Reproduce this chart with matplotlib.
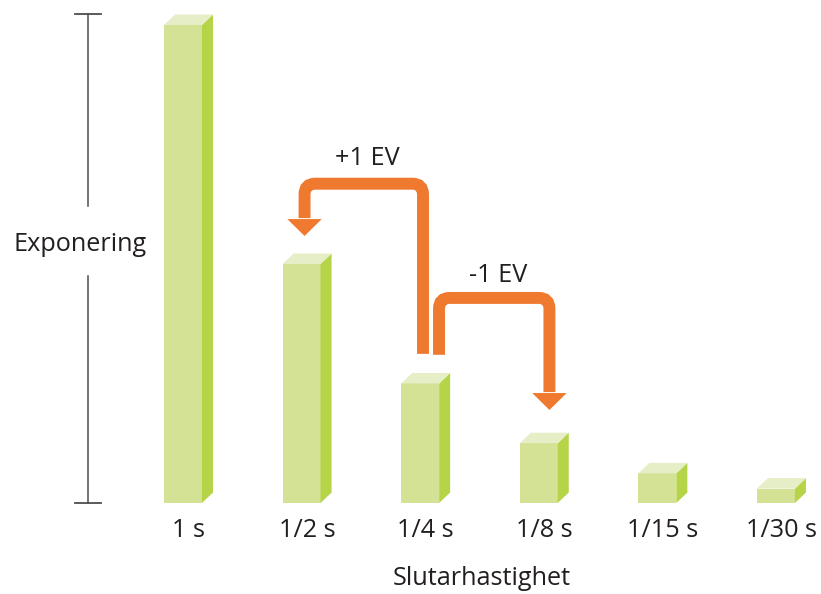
import numpy as np
import matplotlib
matplotlib.use("Agg")
import matplotlib.pyplot as plt
from matplotlib.patches import Polygon, Rectangle, PathPatch
from matplotlib.path import Path

# -----------------------------------------------------------------------------
# Data (relative exposure per shutter speed)
# -----------------------------------------------------------------------------
speeds = ["1 s", "1/2 s", "1/4 s", "1/8 s", "1/15 s", "1/30 s"]
exposure = [1.0, 0.5, 0.25, 0.125, 0.062, 0.03]
y_label = "Exponering"
x_label = "Slutarhastighet"
ev_labels = ["+1 EV", "-1 EV"]

# styles
FRONT = "#d3e294"
SIDE = "#b6d448"
TOP = "#e5eec6"
ORANGE = "#ef7a2f"
TXT = "#231f20"
plt.rcParams['font.family'] = ['Open Sans', 'DejaVu Sans']

W = 0.32          # front face width (x units)
DX = 0.093        # depth offset x
DY = 0.022        # depth offset y
FS = 18.2

fig = plt.figure(figsize=(8.21, 5.94), dpi=100)
ax = fig.add_axes([0, 0, 1, 1])
ax.set_xlim(-1.383, 5.540)
ax.set_ylim(-0.1904, 1.0523)
ax.axis('off')

# -----------------------------------------------------------------------------
# 3D-looking bars
# -----------------------------------------------------------------------------
for i, v in enumerate(exposure):
    ax.add_patch(Rectangle((i, 0), W, v, facecolor=FRONT, edgecolor='none'))
    ax.add_patch(Polygon([(i + W, 0), (i + W + DX, DY), (i + W + DX, v + DY), (i + W, v)],
                         closed=True, facecolor=SIDE, edgecolor='none'))
    ax.add_patch(Polygon([(i, v), (i + DX, v + DY), (i + W + DX, v + DY), (i + W, v)],
                         closed=True, facecolor=TOP, edgecolor='none'))
    ax.text(i + (W + DX) / 2, -0.057, speeds[i], ha='center', va='center',
            fontsize=FS, color=TXT)

ax.text(2.68, -0.158, x_label, ha='center', va='center', fontsize=FS, color=TXT)

# -----------------------------------------------------------------------------
# vertical exposure axis with a gap for the label
# -----------------------------------------------------------------------------
ax_x = -0.641
ax_top = exposure[0] + DY
ax.plot([ax_x, ax_x], [0.621, ax_top], color='#4d4d4d', lw=1.1)
ax.plot([ax_x, ax_x], [0, 0.475], color='#4d4d4d', lw=1.1)
ax.plot([ax_x - 0.11, ax_x + 0.11], [ax_top, ax_top], color='#4d4d4d', lw=1.3)
ax.plot([ax_x - 0.11, ax_x + 0.11], [0, 0], color='#4d4d4d', lw=1.3)
ax.text(-0.708, 0.54, y_label, ha='center', va='center', fontsize=FS, color=TXT)


# -----------------------------------------------------------------------------
# orange EV arrows
# -----------------------------------------------------------------------------
def ev_arrow(x0, y0, ytop, x1, ybase, ytip):
    rx, ry = 0.09, 0.0225
    sgn = 1 if x1 > x0 else -1
    verts = [(x0, y0), (x0, ytop - ry), (x0, ytop), (x0 + sgn * rx, ytop),
             (x1 - sgn * rx, ytop), (x1, ytop), (x1, ytop - ry), (x1, ybase + 0.002)]
    codes = [Path.MOVETO, Path.LINETO, Path.CURVE3, Path.CURVE3,
             Path.LINETO, Path.CURVE3, Path.CURVE3, Path.LINETO]
    ax.add_patch(PathPatch(Path(verts, codes), facecolor='none', edgecolor=ORANGE,
                           lw=8.6, capstyle='butt', joinstyle='miter'))
    hw = 0.145
    ax.add_patch(Polygon([(x1 - hw, ybase), (x1 + hw, ybase), (x1, ytip)],
                         closed=True, facecolor=ORANGE, edgecolor='none'))


ev_arrow(2.184, 0.312, 0.668, 1.185, 0.594, 0.5586)
ev_arrow(2.319, 0.310, 0.429, 3.250, 0.230, 0.1946)
ax.text(1.711, 0.720, ev_labels[0], ha='center', va='center', fontsize=FS, color=TXT)
ax.text(2.820, 0.476, ev_labels[1], ha='center', va='center', fontsize=FS, color=TXT)

fig.savefig("out.png", dpi=100, facecolor='white')
